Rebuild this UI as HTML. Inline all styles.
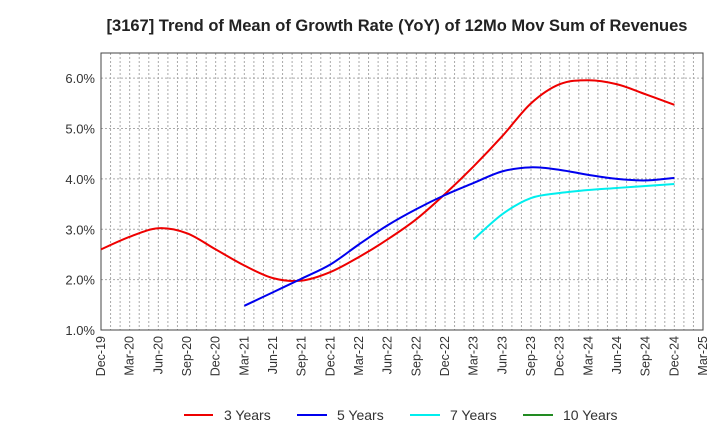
<!DOCTYPE html>
<html><head><meta charset="utf-8"><style>
body{margin:0;background:#fff}
svg{display:block;font-family:"Liberation Sans",Arial,sans-serif}
</style></head><body>
<svg id="chart" width="720" height="440" viewBox="0 0 720 440" xmlns="http://www.w3.org/2000/svg">
<text x="397" y="31" text-anchor="middle" font-size="16.5" font-weight="bold" fill="#222">[3167]  Trend of Mean of Growth Rate (YoY) of 12Mo Mov Sum of Revenues</text>
<g id="grid"></g><g id="axes"></g><g id="series"></g>
<g font-size="14" fill="#333">
<line x1="184" y1="415" x2="213" y2="415" stroke="#ee0000" stroke-width="2"/><text x="224" y="420">3 Years</text>
<line x1="297" y1="415" x2="327" y2="415" stroke="#0000ee" stroke-width="2"/><text x="337" y="420">5 Years</text>
<line x1="410" y1="415" x2="440" y2="415" stroke="#00eeee" stroke-width="2"/><text x="450" y="420">7 Years</text>
<line x1="523" y1="415" x2="553" y2="415" stroke="#228b22" stroke-width="2"/><text x="563" y="420">10 Years</text>
</g>
</svg>
<script>
const xLabels=["Dec-19","Mar-20","Jun-20","Sep-20","Dec-20","Mar-21","Jun-21","Sep-21","Dec-21","Mar-22","Jun-22","Sep-22","Dec-22","Mar-23","Jun-23","Sep-23","Dec-23","Mar-24","Jun-24","Sep-24","Dec-24","Mar-25"];
const yTicks=[1,2,3,4,5,6];
const s3=[2.6,2.85,3.02,2.92,2.6,2.28,2.03,1.98,2.15,2.45,2.8,3.2,3.7,4.25,4.85,5.5,5.88,5.96,5.88,5.68,5.47];
const s3Start=0;
const s5=[1.48,1.75,2.02,2.3,2.7,3.08,3.4,3.68,3.92,4.15,4.23,4.18,4.08,4.0,3.97,4.02];
const s5Start=5;
const s7=[2.8,3.3,3.62,3.72,3.78,3.82,3.86,3.9];
const s7Start=13;
const s10=[];
const s10Start=0;
const L=101,R=703,T=53,B=330,ymin=1,ymax=6.5;
const X=i=>L+(R-L)*i/(xLabels.length-1);
const Y=v=>B-(v-ymin)/(ymax-ymin)*(B-T);
const NS="http://www.w3.org/2000/svg";
function mk(tag,attrs,parent){const e=document.createElementNS(NS,tag);for(const k in attrs)e.setAttribute(k,attrs[k]);parent.appendChild(e);return e;}
const grid=document.getElementById('grid'),axes=document.getElementById('axes'),ser=document.getElementById('series');
for(let m=1;m<(xLabels.length-1)*3;m++){const x=L+(R-L)*m/((xLabels.length-1)*3);
const g=mk('line',{x1:x,y1:T,x2:x,y2:B,stroke:'#aaa','stroke-dasharray':'2,2','stroke-width':1},grid);
}
yTicks.forEach(v=>{const y=Y(v);
const g=mk('line',{x1:L,y1:y,x2:R,y2:y,stroke:'#aaa','stroke-dasharray':'2,2'},grid);

const t=mk('text',{x:L-6,y:y+5,'text-anchor':'end','font-size':13,fill:'#333'},axes);t.textContent=v.toFixed(1)+'%';
});
xLabels.forEach((lab,i)=>{const x=X(i);
const t=mk('text',{transform:`translate(${x+4},${B+6}) rotate(-90)`,'text-anchor':'end','font-size':12.5,fill:'#333'},axes);t.textContent=lab;
});
const fr=mk('rect',{x:L,y:T,width:R-L,height:B-T,fill:'none',stroke:'#444','stroke-width':1},axes);

function path(vals,start,color,name){if(!vals.length)return;
const p=vals.map((v,i)=>[X(start+i),Y(v)]);let d=`M${p[0][0]},${p[0][1]}`;
for(let i=0;i<p.length-1;i++){const p0=p[i-1]||p[i],p1=p[i],p2=p[i+1],p3=p[i+2]||p2;
d+=` C${p1[0]+(p2[0]-p0[0])/6},${p1[1]+(p2[1]-p0[1])/6} ${p2[0]-(p3[0]-p1[0])/6},${p2[1]-(p3[1]-p1[1])/6} ${p2[0]},${p2[1]}`;}
const e=mk('path',{d,fill:'none',stroke:color,'stroke-width':2},ser);
}
path(s3,s3Start,'#ee0000','line-3-years');
path(s5,s5Start,'#0000ee','line-5-years');
path(s7,s7Start,'#00eeee','line-7-years');
path(s10,s10Start,'#228b22','line-10-years');
</script>
</body></html>
